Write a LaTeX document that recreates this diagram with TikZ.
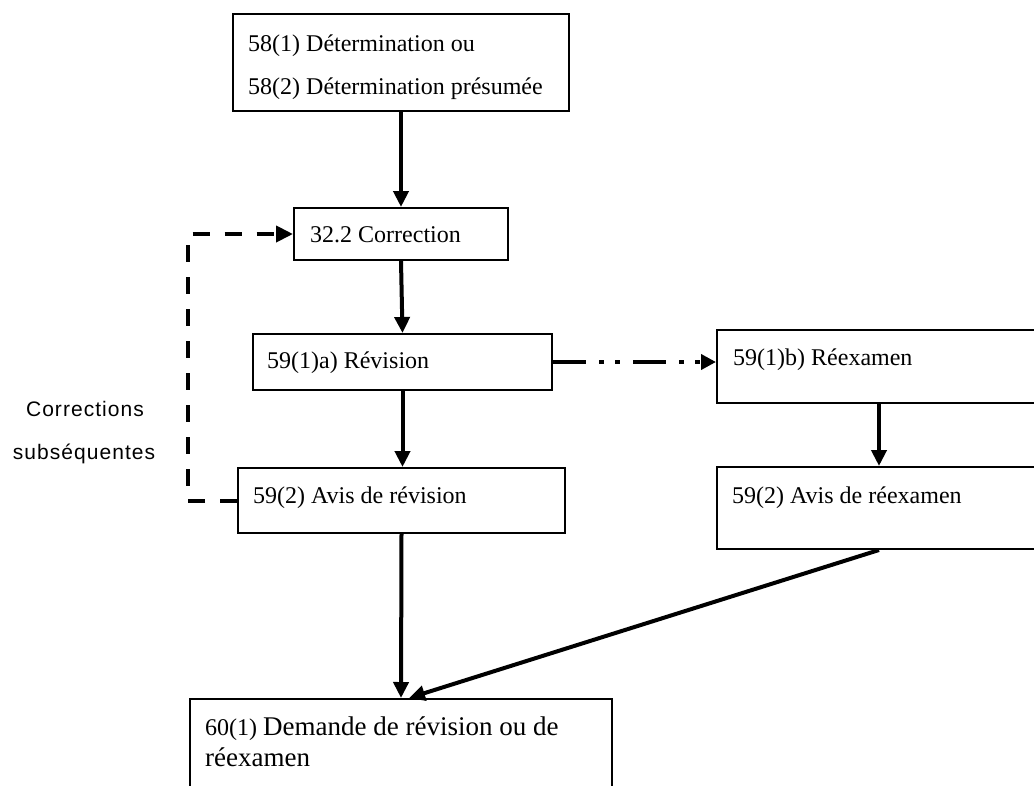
\documentclass[tikz,border=0pt]{standalone}
\usepackage{fontspec}
\setmainfont{Liberation Serif}
\newfontfamily\sansf{Liberation Sans}[LetterSpace=5]
\usetikzlibrary{arrows.meta,calc}
\begin{document}
\begin{tikzpicture}[x=1pt,y=-1pt,
  box/.style={draw, line width=2pt, rectangle, inner sep=0pt, anchor=north west},
  lbl/.style={anchor=base west, inner sep=0pt, font=\fontsize{24}{28}\selectfont},
  side/.style={anchor=base, inner sep=0pt, font=\sansf\fontsize{21}{24}\selectfont},
  flow/.style={line width=4pt, -{Triangle[length=16pt,width=15pt]}},
  dashflow/.style={line width=4pt, dash pattern=on 17pt off 15pt, -{Triangle[length=17pt,width=16pt]}},
  dotflow/.style={line width=4pt, dash pattern=on 33pt off 13pt on 5pt off 11pt on 5pt off 13pt, -{Triangle[length=15pt,width=15pt]}}
]
\useasboundingbox (0,0) rectangle (1034,785);
\clip (0,0) rectangle (1034,785);

% boxes
\node[box, minimum width=336pt, minimum height=97pt] (A) at (232,13) {};
\node[box, minimum width=214pt, minimum height=52pt] (B) at (293,207) {};
\node[box, minimum width=299pt, minimum height=56pt] (C) at (252,333) {};
\node[box, minimum width=324pt, minimum height=73pt] (D) at (716,329) {};
\node[box, minimum width=327pt, minimum height=65pt] (E) at (237,467) {};
\node[box, minimum width=324pt, minimum height=82pt] (F) at (716,466) {};
\node[box, minimum width=422pt, minimum height=120pt] (G) at (189,698) {};

% texts
\node[lbl] (tA1) at (248,51) {58(1) Détermination ou};
\node[lbl] (tA2) at (248,94) {58(2) Détermination présumée};
\node[lbl] (tB) at (310,242) {32.2 Correction};
\node[lbl] (tC) at (267,368) {59(1)a) Révision};
\node[lbl] (tD) at (733,365) {59(1)b) Réexamen};
\node[lbl] (tE) at (253,503) {59(2) Avis de révision};
\node[lbl] (tF) at (732,503) {59(2) Avis de réexamen};
\node[lbl] (tG1) at (205,735) {60(1) {\fontsize{27}{30}\selectfont Demande de révision ou de}};
\node[lbl, font=\fontsize{27}{30}\selectfont] (tG2) at (205,766) {réexamen};

\node[side] (s1) at (85,416) {Corrections};
\node[side] (s2) at (84,459) {subséquentes};

% connectors
\draw[flow] (A.south) -- (B.north);
\draw[flow] (B.south) -- (C.north);
\draw[flow] (C.south) -- (C.south |- E.north);
\draw[flow] (D.south) -- (F.north);
\draw[flow] (E.south) -- (G.north);
\draw[flow] (F.south) -- ($(G.north)+(8,0)$);
\draw[dotflow] (C.east) -- (C.east -| D.west);
\coordinate (L) at (188,0);
\draw[dashflow] (E.west) -- (E.west -| L) -- (B.west -| L) -- (B.west);
\end{tikzpicture}
\end{document}
